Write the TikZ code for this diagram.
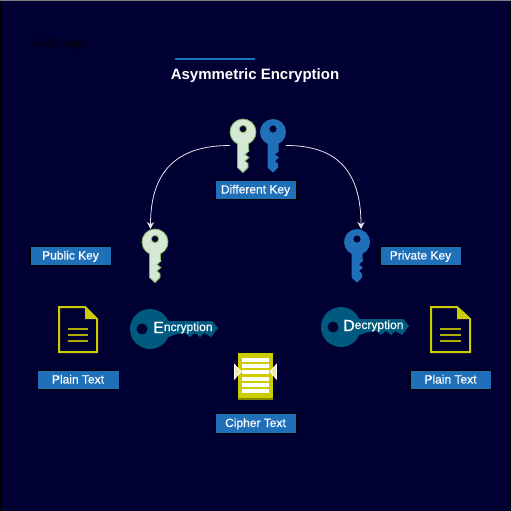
\documentclass[tikz,border=0pt]{standalone}
\usepackage{fontspec}
\setmainfont{Liberation Sans}
\usetikzlibrary{arrows.meta}

\definecolor{night}{HTML}{000033}
\definecolor{labelblue}{HTML}{1F70B8}
\definecolor{keypale}{HTML}{D5E8D4}
\definecolor{keypaleline}{HTML}{82B366}
\definecolor{keyteal}{HTML}{005A80}
\definecolor{docyellow}{HTML}{CCCC00}

\newfontfamily\tagfont[FakeBold=0.3]{Liberation Sans}

% upright key, head centred on the origin
\newcommand{\keypath}{
  (-5.5,11.8) -- (-5.5,35.5) -- (0,40.5) -- (5,35.5) -- (5,31.5) -- (2,29) -- (6,25.5)
  -- (2,22.5) -- (6,19) -- (5.5,16) -- (5.5,11.8) arc (65:-245:13) -- cycle
}
% lying key, head centred on the origin
\newcommand{\flatkeypath}{
  (18.3,-8) -- (62,-8) -- (68,-1) -- (61,8) -- (54,4) -- (50,8) -- (45,4) -- (40,8) -- (35,4)
  -- (27,5) -- (18.3,8) arc (23.6:336.4:20) -- cycle
}

\begin{document}
\begin{tikzpicture}[x=1pt,y=-1pt]
  \tikzstyle{tag}=[fill=labelblue,draw=black,line width=0.5pt,text=white,minimum width=81.5pt,
    minimum height=19.5pt,inner sep=0pt,text height=9pt,text depth=1pt,font=\tagfont\fontsize{12}{14}\selectfont]
  \tikzstyle{link}=[-{Stealth[length=7pt,width=7pt]},draw=white!90!night,line width=0.8pt]
  \tikzstyle{keybox}=[minimum width=26pt,minimum height=53pt,inner sep=0pt]
  \tikzstyle{doc}=[draw=docyellow,line width=2pt]
  \tikzstyle{docline}=[draw=docyellow!85!black,line width=1.6pt]
  \tikzstyle{keyword}=[text=white,inner sep=0pt,anchor=base west,font=\tagfont\fontsize{16}{16}\selectfont]

  \useasboundingbox (0,0) rectangle (511,511);
  \fill[night] (0,0) rectangle (511,511);
  \draw[black,line width=1pt] (0.5,0) -- (0.5,511); % Left edge
  \draw[black,line width=1pt] (510.5,0) -- (510.5,511); % Right edge
  \draw[gray,line width=1pt] (0,0.5) -- (511,0.5); % Top edge

  \node[anchor=west,inner sep=0pt,text=black,font=\fontsize{12}{14}\selectfont] (author) at (32,44) {Ali Furqan};
  \node[text=white,font=\bfseries\fontsize{15}{18}\selectfont] (title) at (255,75.5) {Asymmetric Encryption};
  \draw[labelblue,line width=2pt] (175,59) -- (255,59); % Title rule

  % Keys on top
  \node[keybox] (keyPair) at (243,145.5) {};
  \node[keybox] (keyOther) at (273,145.5) {};
  \fill[keypale,draw=keypaleline,line width=0.8pt,even odd rule] [shift={(243,132)}] \keypath (0,-3) circle (3.7);
  \fill[labelblue,even odd rule] [shift={(273,132)}] \keypath (0,-3) circle (3.7);
  \node[tag] (differ) at (255.5,189.5) {Different Key};

  % Public side
  \node[keybox] (keyPub) at (155,255.5) {};
  \coordinate (pubIn) at (150.5,229);
  \fill[keypale,draw=keypaleline,line width=0.8pt,even odd rule] [shift={(155,242)}] \keypath (0,-3) circle (3.7);
  \node[tag] (pubtag) at (70.5,255.5) {Public Key};
  \draw[link] (keyPair.west) .. controls (178,145.5) and (150.5,170) .. (pubIn); % Left curve

  % Private side
  \node[keybox] (keyPriv) at (357,255.5) {};
  \coordinate (privIn) at (361,229);
  \fill[labelblue,even odd rule] [shift={(357,242)}] \keypath (0,-3) circle (3.7);
  \node[tag] (privtag) at (420.5,255.5) {Private Key};
  \draw[link] (keyOther.east) .. controls (336,145.5) and (361,170) .. (privIn); % Right curve

  % Left document
  \draw[doc] (59,307) -- (85,307) -- (97,319) -- (97,352) -- (59,352) -- cycle;
  \fill[docyellow] (85,306) -- (98,319) -- (85,319) -- cycle;
  \foreach \y in {329,335,341} \draw[docline] (68,\y) -- (88,\y);
  \node[tag] (plainL) at (78,379.5) {Plain Text};

  % Right document
  \draw[doc] (431,307) -- (457,307) -- (470,319) -- (470,352) -- (431,352) -- cycle;
  \fill[docyellow] (457,306) -- (471,319) -- (457,319) -- cycle;
  \foreach \y in {329,335,341} \draw[docline] (440,\y) -- (461,\y);
  \node[tag] (plainR) at (450.5,379.5) {Plain Text};

  % Flat keys
  \fill[keyteal,even odd rule] [shift={(150,329)}] \flatkeypath (-8,0) circle (5.6);
  \node[keyword] (encrypt) at (153,333)
    {E\raisebox{2pt}{\fontsize{12}{14}\selectfont ncryption}};
  \fill[keyteal,even odd rule] [shift={(341,327)}] \flatkeypath (-8,0) circle (5.6);
  \node[keyword] (decrypt) at (343,331)
    {D\raisebox{2pt}{\fontsize{12}{14}\selectfont ecryption}};

  % Cipher text
  \fill[docyellow] (238,353) rectangle (273,399);
  \fill[docyellow!65!black] (238,397.5) rectangle (273,399.5);
  \foreach \y in {359.5,366,372,378.5,384.5,391} \fill[white] (242,\y-2) rectangle (269,\y+2);
  \draw[white,fill=docyellow!40!white,line width=0.8pt] (234.5,364.5) -- (241,371.5) -- (234.5,379) -- cycle;
  \draw[white,fill=docyellow!40!white,line width=0.8pt] (276.5,364.5) -- (270,371.5) -- (276.5,379) -- cycle;
  \node[tag] (cipher) at (255.5,423) {Cipher Text};
\end{tikzpicture}
\end{document}
